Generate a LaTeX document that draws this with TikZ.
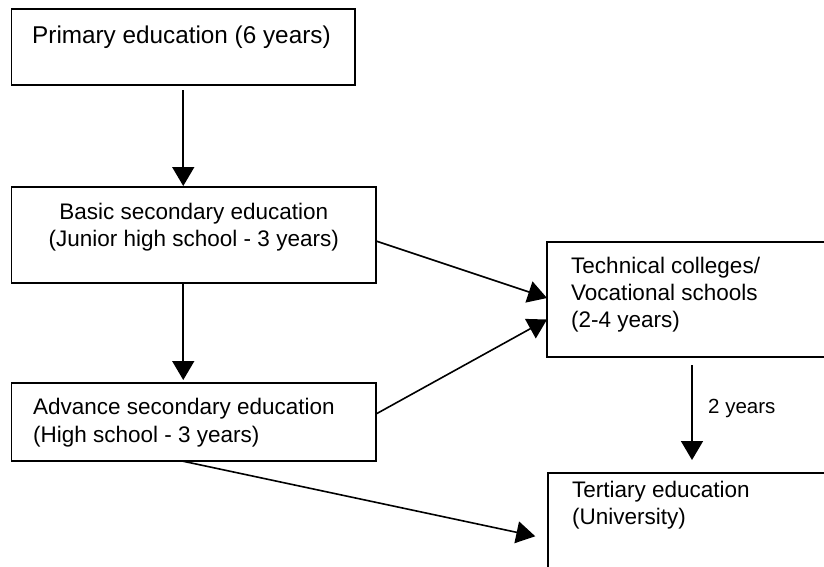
\documentclass[tikz,border=0pt]{standalone}
\usepackage{fontspec}
\setmainfont{Liberation Sans}
\usetikzlibrary{arrows.meta,calc}
\begin{document}
\begin{tikzpicture}[x=1pt,y=-1pt,
  box/.style={draw, line width=1.6pt, inner sep=0pt, outer sep=0pt},
  txt/.style={anchor=base west, inner sep=0pt, font=\fontsize{22.5}{27}\selectfont},
  arr/.style={line width=1.6pt, -{Triangle[length=19pt,width=22pt]}},
]
\useasboundingbox (0,0) rectangle (824,566);
\clip (0,0) rectangle (824,566);
\fill[white] (0,0) rectangle (824,566);

% boxes
\node[box, minimum width=343.5pt, minimum height=76pt] (prim) at (183.25,47) {};
\node[box, minimum width=364.5pt, minimum height=96pt] (basic) at (193.75,235) {};
\node[box, minimum width=364.5pt, minimum height=78pt] (adv) at (193.75,422) {};
\node[box, minimum width=293pt, minimum height=115pt] (tech) at (693.5,299.5) {};
\node[box, minimum width=292pt, minimum height=127pt] (tert) at (694,536.5) {};

% box texts
\node[txt, font=\fontsize{24.3}{28}\selectfont] (primT) at (32,43) {Primary education (6 years)};
\node[txt, anchor=base] (basicT1) at (193.75,219) {Basic secondary education};
\node[txt, anchor=base] (basicT2) at (193.75,246) {(Junior high school - 3 years)};
\node[txt] (advT1) at (33,414) {Advance secondary education};
\node[txt] (advT2) at (33,442) {(High school - 3 years)};
\node[txt] (techT1) at (571,273) {Technical colleges/};
\node[txt] (techT2) at (571,300) {Vocational schools};
\node[txt] (techT3) at (571,327) {(2-4 years)};
\node[txt] (tertT1) at (572,497) {Tertiary education};
\node[txt] (tertT2) at (572,524) {(University)};

% connectors
\draw[arr, shorten >=1pt] ([yshift=-5pt]prim.south) -- (prim.south |- basic.north);
\draw[arr, shorten >=3pt] (prim.south |- basic.south) -- (prim.south |- adv.north);
\draw[arr] ([yshift=-6pt]basic.east) -- ([yshift=1.5pt]tech.west);
\draw[arr] ([yshift=8pt]adv.east) -- ([yshift=-20pt]tech.west);
\draw[arr, shorten >=13pt] ([xshift=-11.75pt]adv.south) -- ([yshift=-2.5pt]tert.west);
\draw[arr, shorten <=8pt, shorten >=13pt] ([xshift=-1.5pt]tech.south) -- ([xshift=-1.5pt]tech.south |- tert.north);

\node[txt, font=\fontsize{20.5}{24}\selectfont] (yrs) at (708,413) {2 years};
\end{tikzpicture}
\end{document}
